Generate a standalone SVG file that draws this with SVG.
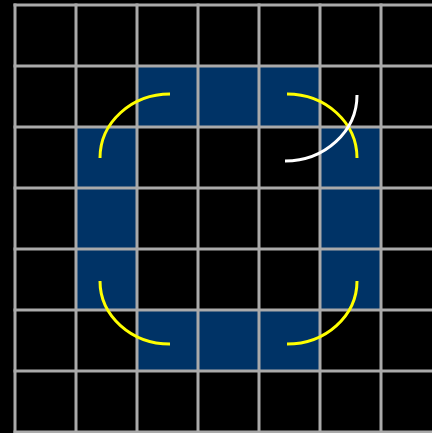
<svg xmlns="http://www.w3.org/2000/svg" width="432" height="433" viewBox="0 0 432 433">
<style>
.cell{fill:#003366}
.grid line{stroke:#aaaaaa;stroke-width:3}
.arc{fill:none;stroke:#ffff00;stroke-width:3}
.warc{fill:none;stroke:#ffffff;stroke-width:3}
</style>
<rect width="432" height="433" fill="#000000"/>
<g id="cells">
<rect class="cell" x="137" y="66" width="184" height="61"/>
<rect class="cell" x="76" y="127" width="61" height="183"/>
<rect class="cell" x="320" y="127" width="62" height="183"/>
<rect class="cell" x="137" y="310" width="184" height="61"/>
</g>
<g id="grid" class="grid">
<line x1="15" y1="3.5" x2="15" y2="433"/>
<line x1="76" y1="3.5" x2="76" y2="433"/>
<line x1="137" y1="3.5" x2="137" y2="433"/>
<line x1="198" y1="3.5" x2="198" y2="433"/>
<line x1="259" y1="3.5" x2="259" y2="433"/>
<line x1="320" y1="3.5" x2="320" y2="433"/>
<line x1="381" y1="3.5" x2="381" y2="433"/>
<line x1="13.5" y1="5" x2="432" y2="5"/>
<line x1="13.5" y1="66" x2="432" y2="66"/>
<line x1="13.5" y1="127" x2="432" y2="127"/>
<line x1="13.5" y1="188" x2="432" y2="188"/>
<line x1="13.5" y1="249" x2="432" y2="249"/>
<line x1="13.5" y1="310" x2="432" y2="310"/>
<line x1="13.5" y1="371" x2="432" y2="371"/>
<line x1="13.5" y1="432" x2="432" y2="432"/>
</g>
<g id="connectors">
<path class="arc" d="M100,158 A70 64 0 0 1 170,94"/>
<path class="arc" d="M287,94 A70 64 0 0 1 357,158"/>
<path class="arc" d="M100,281 A70 63 0 0 0 170,344"/>
<path class="arc" d="M357,281 A70 63 0 0 1 287,344"/>
<path class="warc" d="M357,95 A72 66 0 0 1 285,161"/>
</g>
</svg>
